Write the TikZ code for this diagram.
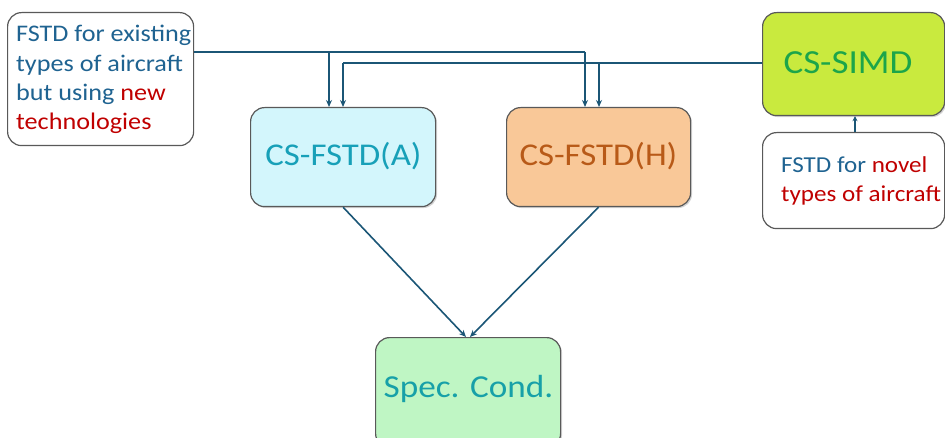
\documentclass[tikz,border=0pt]{standalone}
\usepackage{fontspec}
\setmainfont{Carlito}
\usetikzlibrary{arrows.meta,shadows}
\definecolor{lineblue}{HTML}{1B5676}
\definecolor{txtblue}{HTML}{1F6391}
\definecolor{txtred}{HTML}{C00000}
\definecolor{fillA}{HTML}{D3F6FC}
\definecolor{fillH}{HTML}{F9C898}
\definecolor{fillS}{HTML}{C9EA3E}
\definecolor{fillC}{HTML}{BFF6C4}
\definecolor{txtA}{HTML}{17A0B8}
\definecolor{txtH}{HTML}{B85A18}
\definecolor{txtS}{HTML}{1CA54A}
\definecolor{txtC}{HTML}{17A0A8}
\newcommand{\wide}[1]{\scalebox{1.1}[1]{#1}}
\begin{document}
\begin{tikzpicture}[x=1pt,y=-1pt,
  box/.style={draw=black!65,line width=1.2pt,rounded corners=14pt,inner sep=0pt,anchor=north west},
  mainbox/.style={box,drop shadow={shadow xshift=1.5pt,shadow yshift=-1.5pt,opacity=0.35}},
  smalltxt/.style={anchor=base west,inner sep=0pt},
  bigtxt/.style={anchor=base,inner sep=0pt},
  conn/.style={draw=lineblue,line width=1.6pt},
  arr/.style={conn,-{Stealth[length=7pt,width=6pt]}}]
\useasboundingbox (0,0) rectangle (945,438);
% boxes
\node[box,fill=white,minimum width=186pt,minimum height=133pt] (exist) at (7,12) {};
\node[mainbox,fill=fillA,minimum width=185pt,minimum height=99pt] (A) at (250,107) {};
\node[mainbox,fill=fillH,minimum width=184pt,minimum height=99pt] (H) at (506,107) {};
\node[mainbox,fill=fillS,minimum width=182pt,minimum height=103pt] (S) at (762,12) {};
\node[box,fill=white,minimum width=182pt,minimum height=96pt] (novel) at (762,132) {};
\node[mainbox,fill=fillC,minimum width=185pt,minimum height=110pt] (C) at (375,337) {};
% texts
\begin{scope}[font=\fontsize{23.8}{28}\selectfont]
\node[smalltxt,text=txtblue] (e1) at (16,42) {\wide{FSTD for existing}};
\node[smalltxt,text=txtblue] (e2) at (16,71.3) {\wide{types of aircraft}};
\node[smalltxt,text=txtblue] (e3) at (16,100.6) {\wide{but using \textcolor{txtred}{new}}};
\node[smalltxt,text=txtred] (e4) at (16,130) {\wide{technologies}};
\end{scope}
\begin{scope}[font=\fontsize{22.8}{28}\selectfont]
\node[smalltxt,text=txtblue] (n1) at (781,173) {\wide{FSTD for \textcolor{txtred}{novel}}};
\node[smalltxt,text=txtred] (n2) at (781,202) {\wide{types of aircraft}};
\end{scope}
\node[bigtxt,font=\fontsize{31.7}{36}\selectfont,text=txtA] (At) at (343.5,166) {\wide{CS-FSTD(A)}};
\node[bigtxt,font=\fontsize{31.7}{36}\selectfont,text=txtH] (Ht) at (598.5,166) {\wide{CS-FSTD(H)}};
\node[bigtxt,font=\fontsize{33.7}{38}\selectfont,text=txtS] (St) at (848,74) {\wide{CS-SIMD}};
\node[bigtxt,font=\fontsize{32}{38}\selectfont,text=txtC] (Ct) at (468.5,397) {\wide{Spec. Cond.}};
% connector coordinates
\coordinate (j1) at (329,52);
\coordinate (j2) at (585,52);
\coordinate (k1) at (343,63);
\coordinate (k2) at (599,63);
% connectors
\draw[conn] (exist.east |- j1) -- (j2);
\draw[arr] (j1) -- (j1 |- A.north);
\draw[arr] (j2) -- (j2 |- H.north);
\draw[conn] (S.west |- k1) -- (k1);
\draw[arr] (k1) -- (k1 |- A.north);
\draw[arr] (k2) -- (k2 |- H.north);
\draw[arr,-{Stealth[length=5pt,width=5pt]}] (novel.north -| 855,0) -- (S.south -| 855,0);
\draw[arr] (A.south) -- (C.north -| 466,0);
\draw[arr] (H.south) -- (C.north -| 470,0);
\end{tikzpicture}
\end{document}
